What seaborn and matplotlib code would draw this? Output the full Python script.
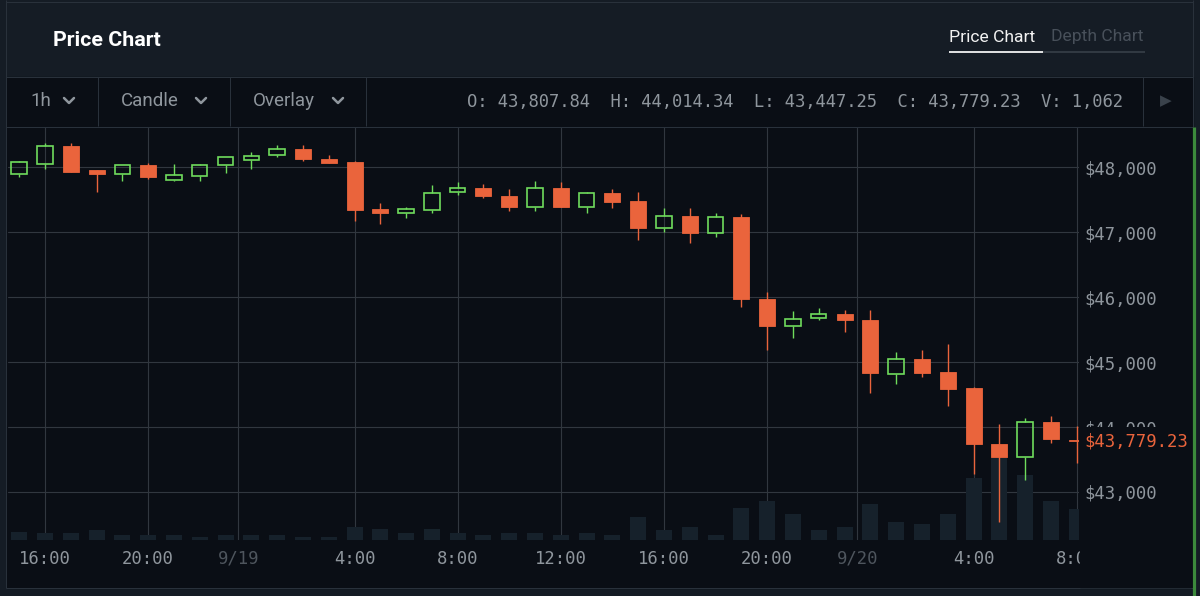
import numpy as np
import matplotlib as mpl
mpl.use("Agg")
import matplotlib.pyplot as plt
import matplotlib.transforms as mtransforms
from matplotlib.lines import Line2D
from matplotlib.patches import Rectangle
from matplotlib.ticker import FuncFormatter
import seaborn as sns

# ── data (1h candles, hour 0 = 16:00 on 9/18) ────────────────────────────────
hours = np.arange(-1, 41)
opens = [47895, 48059, 48331, 47957, 47895, 48034, 47812, 47864, 48043, 48111,
         48188, 48280, 48131, 48080, 47360, 47294, 47345, 47618, 47679, 47556,
         47391, 47679, 47391, 47607, 47484, 47068, 47257, 46995, 47237, 45974,
         45557, 45681, 45742, 45645, 44813, 45044, 44849, 44597, 43734, 43539,
         44078, 43807.84]
highs = [48100, 48373, 48373, 47957, 48034, 48065, 48049, 48049, 48157, 48243,
         48347, 48347, 48193, 48100, 47448, 47396, 47726, 47772, 47746, 47669,
         47797, 47772, 47622, 47669, 47622, 47371, 47371, 47294, 47279, 46077,
         45784, 45830, 45804, 45804, 45157, 45183, 45285, 44613, 44043, 44135,
         44166, 44014.34]
lows = [47849, 47972, 47935, 47627, 47797, 47823, 47797, 47797, 47920, 47972,
        48166, 48100, 48065, 47180, 47129, 47226, 47303, 47576, 47525, 47330,
        47330, 47391, 47303, 47381, 46883, 47006, 46832, 46934, 45846, 45192,
        45368, 45645, 45470, 44520, 44668, 44767, 44320, 43277, 42532, 43184,
        43750, 43447.25]
closes = [48080, 48331, 47935, 47895, 48034, 47858, 47880, 48034, 48157, 48182,
          48280, 48136, 48065, 47345, 47294, 47360, 47607, 47679, 47565, 47391,
          47679, 47391, 47607, 47464, 47068, 47257, 46995, 47233, 45978, 45557,
          45670, 45742, 45655, 44833, 45044, 44833, 44582, 43739, 43539, 44074,
          43816, 43779.23]
volumes = [274, 230, 230, 343, 171, 171, 171, 113, 171, 171,
           171, 113, 113, 445, 387, 230, 387, 230, 171, 230,
           230, 171, 230, 171, 788, 343, 445, 171, 1107, 1336,
           891, 343, 445, 1223, 617, 558, 891, 2114, 2820, 2227,
           1336, 1062]

tick_hours = [0, 4, 7.5, 12, 16, 20, 24, 28, 31.5, 36, 40]
tick_labels = ["16:00", "20:00", "9/19", "4:00", "8:00", "12:00",
               "16:00", "20:00", "9/20", "4:00", "8:00"]
price_ticks = [43000, 44000, 45000, 46000, 47000, 48000]

BG = "#0a0e15"
PANEL = "#151c25"
LINE = "#29313b"
GRID = "#31373f"
UP = "#6fdc5c"
DOWN = "#ea643c"
VOL = "#16212b"
TXT = "#8f969d"
DIM = "#4e555d"

sns.set_theme(style="dark", rc={"axes.facecolor": BG, "figure.facecolor": PANEL,
                                "axes.edgecolor": BG, "patch.force_edgecolor": False})
plt.rcParams["font.family"] = ["DejaVu Sans Mono"]

W, H = 1200, 596
fig = plt.figure(figsize=(12, 5.96), dpi=100)


def fx(px):
    return px / W


def fy(py):
    return 1 - py / H


def hline(y, x0, x1, color=LINE, lw=0.75):
    fig.add_artist(Line2D([fx(x0), fx(x1)], [fy(y), fy(y)], transform=fig.transFigure,
                          color=color, lw=lw, solid_capstyle="butt"))


def vline(x, y0, y1, color=LINE, lw=0.75):
    fig.add_artist(Line2D([fx(x), fx(x)], [fy(y0), fy(y1)], transform=fig.transFigure,
                          color=color, lw=lw, solid_capstyle="butt"))


# dark panel under toolbar + chart
fig.add_artist(Rectangle((fx(6.5), fy(588)), fx(1192.5) - fx(6.5), fy(77) - fy(588),
                         transform=fig.transFigure, color=BG, zorder=-1))

# ── chart axes ────────────────────────────────────────────────────────────────
ax = fig.add_axes([fx(8), fy(540), fx(1079) - fx(8), fy(127) - fy(540)])
ax.set_facecolor(BG)
ax.set_xlim(-1.435, 40.09)
ax.set_ylim(42260, 48624)

ax.grid(True, color=GRID, lw=0.8)
ax.set_axisbelow(True)

# volume bars on their own scale at the bottom of the same axes
VOL_TOP = 14150
vol_tf = mtransforms.blended_transform_factory(
    ax.transData, mtransforms.Affine2D().scale(1, 1 / VOL_TOP) + ax.transAxes)
ax.bar(hours, volumes, width=0.62, color=VOL, edgecolor="none", linewidth=0,
       transform=vol_tf, zorder=1)

o = np.array(opens)
c = np.array(closes)
up = c >= o
top = np.maximum(o, c)
bot = np.minimum(o, c)

ax.vlines(hours[up], top[up], np.array(highs)[up], color=UP, lw=1.0, zorder=2)
ax.vlines(hours[up], np.array(lows)[up], bot[up], color=UP, lw=1.0, zorder=2)
ax.vlines(hours[~up], np.array(lows)[~up], np.array(highs)[~up], color=DOWN, lw=1.0, zorder=2)
ax.bar(hours[up], (top - bot)[up], bottom=bot[up], width=0.6,
       facecolor="none", edgecolor=UP, lw=1.2, zorder=3)
ax.bar(hours[~up], (top - bot)[~up], bottom=bot[~up], width=0.62,
       color=DOWN, edgecolor=DOWN, lw=0.6, zorder=3)

ax.set_xticks(tick_hours, tick_labels)
ax.set_yticks(price_ticks)
ax.yaxis.tick_right()
ax.yaxis.set_major_formatter(FuncFormatter(lambda v, _: f"${v:,.0f}"))
ax.tick_params(axis="both", length=0, labelsize=12.4, labelcolor=TXT)
ax.tick_params(axis="x", pad=7)
ax.tick_params(axis="y", pad=3.6)
for lbl in ax.get_xticklabels():
    if "/" in lbl.get_text():
        lbl.set_color(DIM)
sns.despine(ax=ax, left=True, bottom=True)
for sp in ax.spines.values():
    sp.set_visible(False)

ax.annotate(f"${closes[-1]:,.2f}", xy=(1, closes[-1]),
            xycoords=("axes fraction", "data"), xytext=(3.6, 0),
            textcoords="offset points", ha="left", va="center",
            color=DOWN, fontsize=12.4, annotation_clip=False, zorder=6,
            bbox=dict(boxstyle="square,pad=0.3", fc=BG, ec="none"))

# hide the cut-off part of the last time label
fig.add_artist(Rectangle((fx(1080), fy(587)), fx(1191) - fx(1080), fy(541) - fy(587),
                         transform=fig.transFigure, color=BG, zorder=10))

# ── frame lines ───────────────────────────────────────────────────────────────
for y in (1.5, 76.5, 126.5, 588):
    hline(y, 6, 1193)
vline(6, 0, 588)
vline(1192.5, 0, 127)
for x in (97.5, 230, 366, 1143):
    vline(x, 77, 126)
vline(1193.8, 127, 596, color="#3c8a3c", lw=2.3)

# ── header ────────────────────────────────────────────────────────────────────
fig.text(fx(53), fy(40), "Price Chart", family="Roboto", weight="bold",
         fontsize=15.4, color="white", va="center", ha="left")
fig.text(fx(949), fy(37), "Price Chart", family="Roboto", fontsize=12.6,
         color="#f2f2f2", va="center", ha="left")
fig.text(fx(1051), fy(37), "Depth Chart", family="Roboto", fontsize=12.6,
         color="#48505a", va="center", ha="left")
hline(52, 1043, 1145, color="#3a424c", lw=1.1)
hline(52, 949, 1043, color="#f2f2f2", lw=1.3)

# ── toolbar ───────────────────────────────────────────────────────────────────
for x, label, chev in ((30, "1h", 69), (121, "Candle", 201), (253, "Overlay", 338)):
    fig.text(fx(x), fy(101), label, family="Roboto", fontsize=13.5,
             color=TXT, va="center", ha="left")
    fig.add_artist(Line2D([fx(chev - 5), fx(chev), fx(chev + 5)],
                          [fy(98), fy(103), fy(98)], transform=fig.transFigure,
                          color=TXT, lw=1.8))
ohlc = (f"O: {opens[-1]:,.2f}  H: {highs[-1]:,.2f}  L: {lows[-1]:,.2f}  "
        f"C: {closes[-1]:,.2f}  V: {volumes[-1]:,}")
fig.text(fx(1123), fy(102), ohlc, fontsize=12.3, color=TXT, va="center", ha="right")
fig.text(fx(1166), fy(101), "\u25B6", family="DejaVu Sans", fontsize=11,
         color="#3a424b", va="center", ha="center")

fig.savefig("out.png", dpi=100, facecolor=PANEL)
